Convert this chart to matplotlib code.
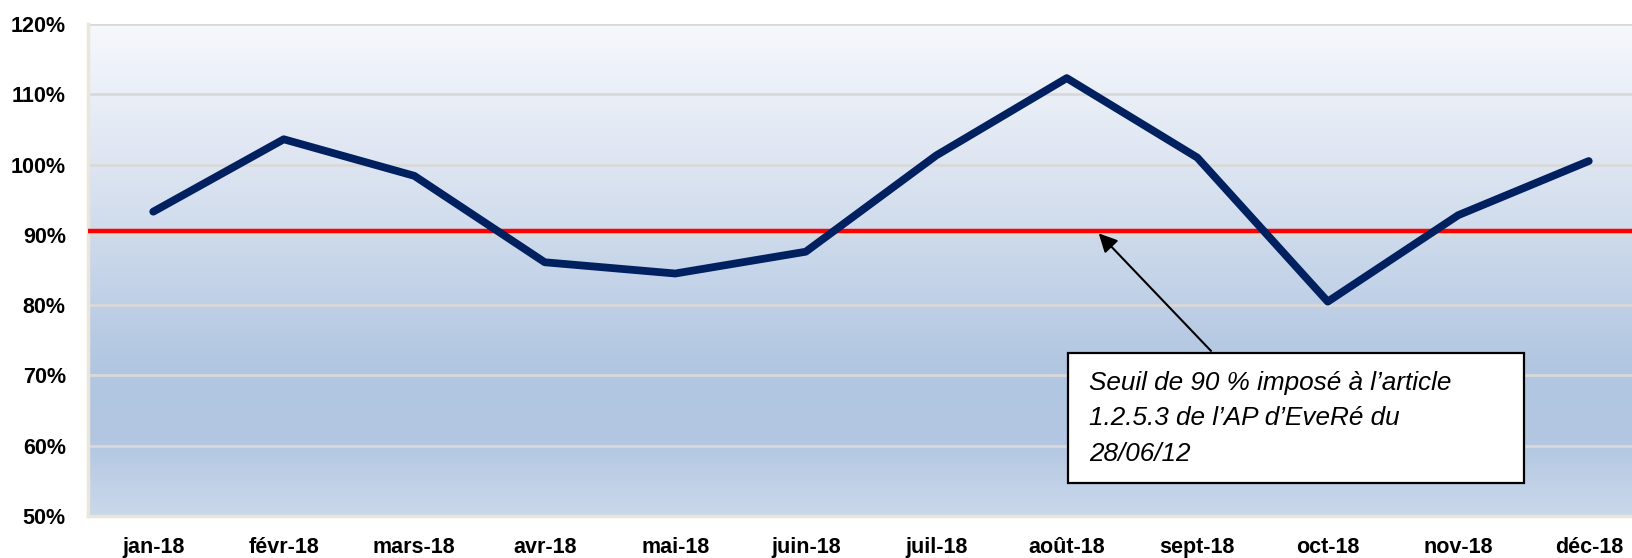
import numpy as np
import matplotlib.pyplot as plt
from matplotlib.colors import LinearSegmentedColormap
from matplotlib.ticker import PercentFormatter

# donnees
mois = ["jan-18", "févr-18", "mars-18", "avr-18", "mai-18", "juin-18",
        "juil-18", "août-18", "sept-18", "oct-18", "nov-18", "déc-18"]
taux = [93.3, 103.6, 98.4, 86.1, 84.5, 87.6, 101.3, 112.3, 101.0, 80.5, 92.8, 100.5]
seuil = 90.5
note = "Seuil de 90 % imposé à l’article\n1.2.5.3 de l’AP d’EveRé du\n28/06/12"

plt.rcParams['font.family'] = ['Liberation Sans', 'DejaVu Sans']

fig = plt.figure(figsize=(16.32, 5.58), dpi=100)
ax = fig.add_axes([88/1632, 42/558, 1566/1632, 492/558])

x = np.arange(len(mois))
ax.set_xlim(-0.5, len(mois) - 0.5)
ax.set_ylim(50, 120)

# fond degrade
cmap = LinearSegmentedColormap.from_list(
    "fond", [(0, "#f6f8fc"), (0.3, "#dce4f1"), (0.7, "#b1c6e1"), (0.85, "#b3c7e2"), (1, "#cad8ea")])
grad = np.linspace(0, 1, 256).reshape(-1, 1)
ax.imshow(grad, cmap=cmap, aspect="auto", extent=(-0.5, len(mois) - 0.5, 50, 120),
          origin="upper", zorder=0)

ax.set_yticks(np.arange(50, 121, 10))
ax.yaxis.set_major_formatter(PercentFormatter(decimals=0))
ax.grid(axis="y", color="#d9d9d9", linewidth=2, zorder=1)
ax.set_axisbelow(False)

for s in ["top", "right"]:
    ax.spines[s].set_visible(False)
ax.spines["left"].set_color("#ebe6dc")
ax.spines["left"].set_linewidth(2.5)
ax.spines["bottom"].set_color("#ebe6dc")
ax.spines["bottom"].set_linewidth(2.5)
ax.spines["left"].set_zorder(3)
ax.spines["bottom"].set_zorder(3)

ax.set_xticks(x)
ax.set_xticklabels(mois, fontsize=15.5, fontweight="bold")
ax.tick_params(axis="x", length=0, pad=15)
ax.tick_params(axis="y", length=0, pad=16, labelsize=15.5)
for t in ax.get_yticklabels():
    t.set_fontweight("bold")

ax.axhline(seuil, color="#ff0000", linewidth=3.2, zorder=4)
ax.plot(x, taux, color="#002060", linewidth=5.6, solid_capstyle="round",
        solid_joinstyle="round", zorder=5)

# annotation
ax.annotate("", xy=(7.23, seuil), xytext=(8.12, 73.2),
            arrowprops=dict(arrowstyle="-|>", color="black", lw=1.5, mutation_scale=28),
            zorder=6)
boite = plt.Rectangle((7.01, 54.7), 3.49, 18.5, facecolor="white", edgecolor="black",
                      linewidth=1.6, zorder=7)
ax.add_patch(boite)
ax.text(7.17, 70.7, note, fontsize=18.8, fontstyle="italic", va="top", ha="left",
        linespacing=1.62, zorder=8)

fig.savefig("out.png", dpi=100)
